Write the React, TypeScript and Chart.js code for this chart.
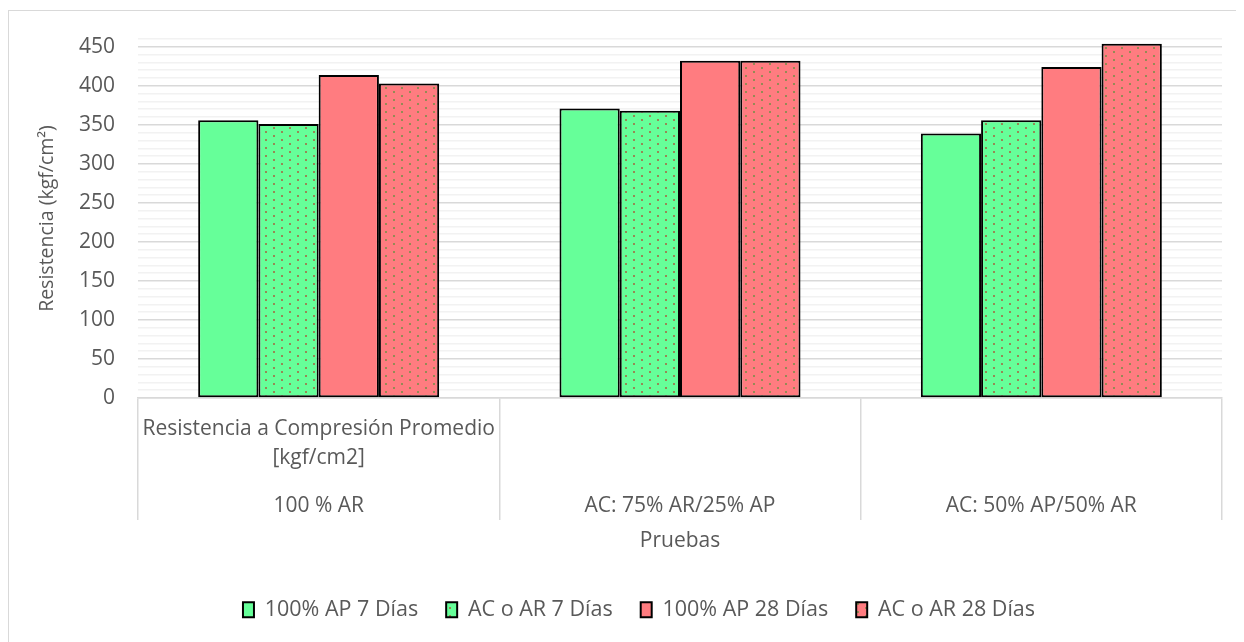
import React, { useEffect, useRef } from "react";
import { Chart, registerables } from "chart.js";

Chart.register(...registerables);

const innerLabels: (string | string[])[] = [
  ["Resistencia a Compresión Promedio", "[kgf/cm2]"],
  "",
  "",
];
const outerLabels: string[] = ["100 % AR", "AC: 75% AR/25% AP", "AC: 50% AP/50% AR"];

const seriesNames: string[] = ["100% AP 7 Días", "AC o AR 7 Días", "100% AP 28 Días", "AC o AR 28 Días"];
const ap7: number[] = [356, 371, 339];
const acar7: number[] = [351, 368, 356];
const ap28: number[] = [414, 432, 424];
const acar28: number[] = [403, 432, 454];

const yTitle = "Resistencia (kgf/cm²)";
const xTitle = "Pruebas";

const GREEN = "#66FF99";
const RED = "#FF7C80";
const DOT = "#968a55";
const FONT = "'Open Sans'";
const TXT = "#595959";

function makePattern(base: string): CanvasPattern | string {
  const c = document.createElement("canvas");
  c.width = 16;
  c.height = 8;
  const g = c.getContext("2d");
  if (!g) return base;
  g.fillStyle = base;
  g.fillRect(0, 0, 16, 8);
  g.fillStyle = DOT;
  g.fillRect(0, 0, 2, 2);
  g.fillRect(8, 4, 2, 2);
  const p = g.createPattern(c, "repeat");
  return p || base;
}

export default function App() {
  const ref = useRef<HTMLCanvasElement | null>(null);
  useEffect(() => {
    document.body.style.overflow = "hidden";
    document.documentElement.style.overflow = "hidden";
    const canvas = ref.current;
    if (!canvas) return;
    const greenDots = makePattern(GREEN);
    const redDots = makePattern(RED);
    const common = { borderColor: "#000000", borderWidth: 2, borderSkipped: false as const, barPercentage: 1.0, categoryPercentage: 0.667 };
    const chart = new Chart(canvas, {
      type: "bar",
      data: {
        labels: innerLabels as any,
        datasets: [
          { label: seriesNames[0], data: ap7, backgroundColor: GREEN, ...common },
          { label: seriesNames[1], data: acar7, backgroundColor: greenDots as any, ...common },
          { label: seriesNames[2], data: ap28, backgroundColor: RED, ...common },
          { label: seriesNames[3], data: acar28, backgroundColor: redDots as any, ...common },
        ],
      },
      options: {
        responsive: false,
        animation: false,
        layout: { padding: { top: 28, bottom: 20.5, left: 0, right: 0 } },
        plugins: {
          tooltip: { enabled: false },
          legend: {
            position: "bottom",
            labels: {
              boxWidth: 11,
              boxHeight: 15,
              padding: 28,
              color: TXT,
              font: { family: FONT, size: 21.5 },
            },
          },
        },
        scales: {
          x: {
            type: "category",
            position: "bottom",
            offset: true,
            grid: { display: true, drawOnChartArea: false, drawTicks: true, tickLength: 75, offset: true, color: "#d9d9d9", lineWidth: 1.5 },
            border: { display: true, color: "#d9d9d9", width: 1.5 },
            ticks: { color: TXT, font: { family: FONT, size: 21, lineHeight: 1.38 }, padding: -58, maxRotation: 0, autoSkip: false },
            afterFit: (s: any) => { s.height = 75; s.paddingLeft = 0; s.paddingRight = 0; },
          },
          x2: {
            type: "category",
            labels: outerLabels,
            position: "bottom",
            offset: true,
            grid: { display: true, drawOnChartArea: false, drawTicks: true, tickLength: 47, offset: true, color: "#d9d9d9", lineWidth: 1.5 },
            border: { display: false },
            ticks: { color: TXT, font: { family: FONT, size: 21, lineHeight: 1.38 }, padding: -28.5, maxRotation: 0, autoSkip: false },
            title: { display: true, text: xTitle, color: TXT, font: { family: FONT, size: 21, lineHeight: 1.2 }, padding: { top: 0, bottom: 17 } },
            afterFit: (s: any) => { s.height = 98; s.paddingLeft = 0; s.paddingRight = 0; },
          },
          y: {
            type: "linear",
            position: "left",
            min: 0,
            max: 460,
            grid: {
              drawTicks: false,
              color: (c: any) => (c.tick && c.tick.value % 50 === 0 ? "#d9d9d9" : "#f2f2f2"),
              lineWidth: 1.5,
            },
            border: { display: false },
            ticks: {
              stepSize: 10,
              autoSkip: false,
              padding: 23,
              color: TXT,
              font: { family: FONT, size: 21 },
              callback: (v: any) => (Number(v) % 50 === 0 ? String(v) : ""),
            },
            title: { display: true, text: yTitle, color: TXT, font: { family: FONT, size: 19.5, lineHeight: 1.2 }, padding: { top: 27, bottom: 0 } },
            afterFit: (s: any) => { s.width = 129; s.paddingTop = 0; s.paddingBottom = 0; },
          },
          yR: {
            type: "linear",
            position: "right",
            display: true,
            grid: { display: false },
            border: { display: false },
            ticks: { display: false },
            afterFit: (s: any) => { s.width = 47; s.paddingTop = 0; s.paddingBottom = 0; },
          },
        },
      } as any,
    });
    return () => chart.destroy();
  }, []);
  return (
    <div style={{ position: "relative", top: 2, width: 1260, height: 640, border: "1px solid #d9d9d9" }}>
      <canvas ref={ref} width={1260} height={640} style={{ display: "block" }} />
    </div>
  );
}
